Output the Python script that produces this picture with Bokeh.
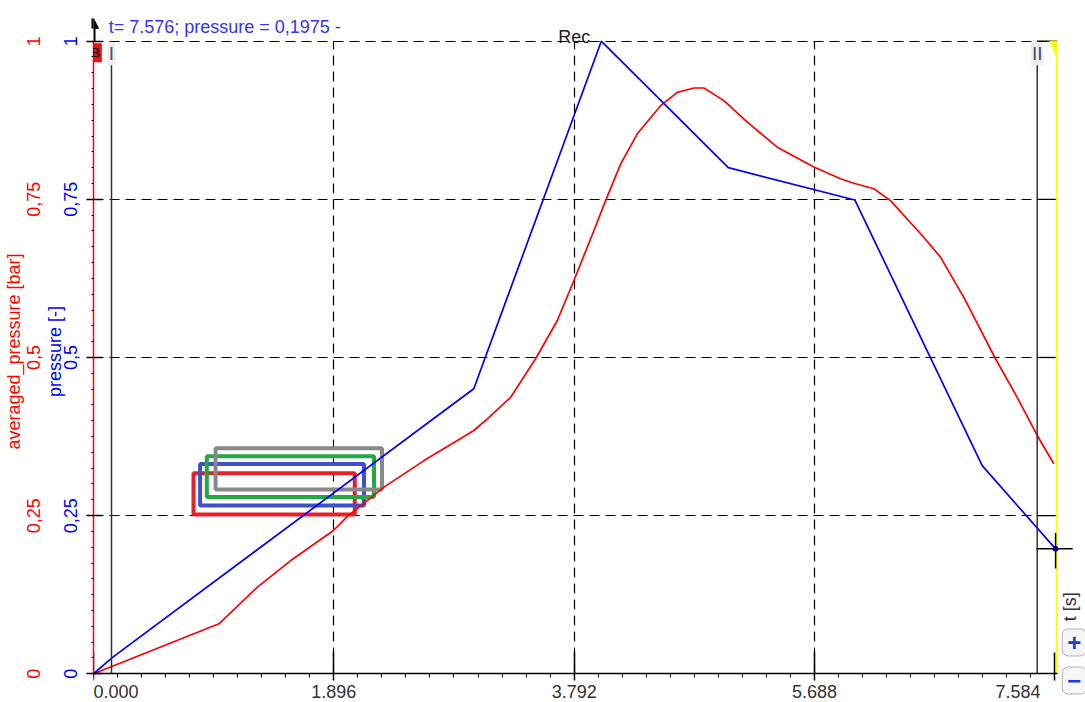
import numpy as np
from bokeh.plotting import figure
from bokeh.models import LinearAxis, FixedTicker, Range1d, Label, Arrow, NormalHead
from bokeh.embed import file_html
from bokeh.resources import INLINE

FONT = "Liberation Sans"
NB = "\u00a0"

# ---- data ----
t_pressure = [0.0, 0.15, 3.0, 4.006, 5.008, 6.006, 7.011, 7.59]
pressure = [0.0, 0.026, 0.4505, 1.0, 0.80, 0.749, 0.329, 0.1975]

t_avg = [0.0, 0.99, 1.293, 1.556, 1.893, 2.003, 2.292, 2.607, 2.897, 3.0, 3.107, 3.291,
         3.488, 3.659, 3.790, 3.948, 4.040, 4.159, 4.290, 4.474, 4.606, 4.737, 4.816,
         4.973, 5.158, 5.394, 5.683, 5.894, 5.998, 6.156, 6.288, 6.55, 6.682, 6.866,
         7.116, 7.287, 7.445, 7.576]
avg_pressure = [0.0, 0.079, 0.137, 0.179, 0.2265, 0.2487, 0.295, 0.337, 0.372, 0.3846, 0.403,
                0.437, 0.498, 0.5585, 0.6217, 0.7008, 0.748, 0.806, 0.8536, 0.898, 0.919,
                0.926, 0.926, 0.906, 0.872, 0.8325, 0.801, 0.7825, 0.7755, 0.7667, 0.748,
                0.690, 0.6586, 0.595, 0.498, 0.437, 0.3767, 0.332]

x_ticks = [0.0, 1.896, 3.792, 5.688, 7.584]
x_tick_labels = ["0.000", "1.896", "3.792", "5.688", "7.584"]
y_ticks = [0.0, 0.25, 0.5, 0.75, 1.0]
y_tick_labels = ["0", "0,25", "0,5", "0,75", "1"]

box_left = [0.789, 0.841, 0.894, 0.963]
box_right = [2.061, 2.134, 2.213, 2.276]
box_bottom = [0.2518, 0.266, 0.2793, 0.2912]
box_top = [0.317, 0.3315, 0.3437, 0.3564]
box_colors = ["#e8202a", "#4050c8", "#22a844", "#888888"]

cursor_I = 0.142
cursor_II = 7.445
cursor_t = 7.59
cursor_p = 0.1975
t_end = 7.603
title_text = "t= 7.576; pressure = 0,1975 -"

# ---- figure (frame covers the top / right / bottom margins so overlays are not clipped) ----
p = figure(width=1085, height=702, x_range=Range1d(0, 7.826), y_range=Range1d(-0.0454, 1.0643),
           output_backend="svg", toolbar_location=None, title_location=None,
           min_border_left=93, min_border_right=0, min_border_top=0, min_border_bottom=0)
p.outline_line_color = None
p.background_fill_color = "white"
p.border_fill_color = "white"

# grids
p.xgrid.ticker = FixedTicker(ticks=x_ticks[1:4])
p.ygrid.ticker = FixedTicker(ticks=y_ticks[1:])
for g in (p.xgrid, p.ygrid):
    g.grid_line_color = "black"
    g.grid_line_dash = "10 6"
    g.grid_line_width = 1.2
try:
    p.xgrid.cross_bounds = (0.0, 1.0)
    p.ygrid.cross_bounds = (0.0, t_end)
except Exception:
    p.xgrid.visible = False
    p.ygrid.visible = False
    p.segment(x0=x_ticks[1:4], y0=[0] * 3, x1=x_ticks[1:4], y1=[1] * 3,
              line_color="black", line_dash="10 6", line_width=1.2)
    p.segment(x0=[0] * 4, y0=y_ticks[1:], x1=[t_end] * 4, y1=y_ticks[1:],
              line_color="black", line_dash="10 6", line_width=1.2)

# x axis, drawn at y = 0
xa = p.xaxis[0]
xa.fixed_location = 0
xa.bounds = (0, t_end)
xstep = x_ticks[1] / 10
xa.ticker = FixedTicker(ticks=x_ticks, minor_ticks=list(np.arange(0, t_end, xstep)))
xlab = list(x_tick_labels)
xlab[0] = NB * 9 + xlab[0]
xlab[-1] = xlab[-1] + NB * 9
xa.major_label_overrides = dict(zip(x_ticks, xlab))
xa.axis_line_color = "black"
xa.axis_line_width = 1.5
xa.major_tick_line_color = "black"
xa.major_tick_line_width = 1.5
xa.major_tick_in = 21
xa.major_tick_out = 7
xa.minor_tick_line_color = "black"
xa.minor_tick_in = 0
xa.minor_tick_out = 4
xa.major_label_text_font = FONT
xa.major_label_text_font_size = "18px"
xa.major_label_text_color = "#333333"
xa.major_label_standoff = 1

# inner (blue) y axis
ya = p.yaxis[0]
ya.bounds = (0, 1)
ya.ticker = FixedTicker(ticks=y_ticks, minor_ticks=list(np.arange(0, 1.0001, 0.025)))
ya.major_label_overrides = dict(zip(y_ticks, y_tick_labels))
ya.axis_line_color = "red"
ya.axis_line_width = 1.5
ya.major_tick_line_color = "black"
ya.major_tick_line_width = 1.5
ya.major_tick_in = 9
ya.major_tick_out = 7
ya.minor_tick_line_color = "black"
ya.minor_tick_in = 0
ya.minor_tick_out = 2
ya.major_label_orientation = "vertical"
ya.major_label_text_color = "blue"
ya.major_label_text_font = FONT
ya.major_label_text_font_size = "18px"
ya.major_label_standoff = 9
ya.axis_label = "pressure [-]"
ya.axis_label_text_color = "blue"
ya.axis_label_text_font = FONT
ya.axis_label_text_font_size = "18px"
ya.axis_label_text_font_style = "normal"
ya.axis_label_standoff = -3

# outer (red) y axis
ra = LinearAxis(ticker=FixedTicker(ticks=y_ticks), bounds=(0, 1))
ra.major_label_overrides = dict(zip(y_ticks, y_tick_labels))
ra.axis_line_color = None
ra.major_tick_line_color = None
ra.minor_tick_line_color = None
ra.major_tick_out = 0
ra.major_tick_in = 0
ra.major_label_orientation = "vertical"
ra.major_label_text_color = "red"
ra.major_label_text_font = FONT
ra.major_label_text_font_size = "18px"
ra.major_label_standoff = 1
ra.axis_label = "averaged_pressure [bar]"
ra.axis_label_text_color = "red"
ra.axis_label_text_font = FONT
ra.axis_label_text_font_size = "18px"
ra.axis_label_text_font_style = "normal"
ra.axis_label_standoff = 1
p.add_layout(ra, "left")

# ---- marks ----
p.quad(left=box_left, right=box_right, bottom=box_bottom, top=box_top,
       fill_color=None, line_color=box_colors, line_width=4)

p.line(t_avg, avg_pressure, line_color="red", line_width=1.7)
p.line(t_pressure, pressure, line_color="blue", line_width=1.7)

# cursors
p.segment(x0=[cursor_I, cursor_II], y0=[0, 0], x1=[cursor_I, cursor_II], y1=[0.966, 0.966],
          line_color="#333333", line_width=1.5)
p.segment(x0=[cursor_II] * 4, y0=y_ticks[1:], x1=[t_end] * 4, y1=y_ticks[1:],
          line_color="black", line_width=1.3)
p.segment(x0=[t_end - 0.004], y0=[0], x1=[t_end - 0.004], y1=[1], line_color="#ffff00", line_width=2)
p.patch([7.545, t_end, t_end], [1.0, 1.0, 0.972], fill_color="#ffff00", line_color="#ffff00")

# crosshair
p.segment(x0=[cursor_t - 0.15, cursor_t], y0=[cursor_p, cursor_p - 0.031],
          x1=[cursor_t + 0.135, cursor_t], y1=[cursor_p, cursor_p + 0.025],
          line_color="black", line_width=1.5)
p.scatter([cursor_t], [cursor_p], size=5, color="#000080")

# ---- text annotations ----
p.add_layout(Label(x=0.12, y=1.0, y_offset=14, text=title_text, text_align="left",
                   text_baseline="alphabetic", text_font=FONT, text_font_size="18px",
                   text_color="#3333ff"))
p.add_layout(Label(x=x_ticks[2], y=1.0, y_offset=4, text="Rec", text_align="center",
                   text_baseline="alphabetic", text_font=FONT, text_font_size="18px",
                   text_color="#222222"))
p.add_layout(Label(x=t_end, x_offset=13, y=0.106, text="t [s]", angle=np.pi / 2,
                   text_align="center", text_baseline="middle", text_font=FONT,
                   text_font_size="18px", text_color="#333333"))

for cx, txt in ((cursor_I, "I"), (cursor_II, "II")):
    p.add_layout(Label(x=cx, y=1.0, y_offset=-1, text=txt, text_align="center", text_baseline="top",
                       text_font=FONT, text_font_size="19px", text_color="#4a4a70",
                       background_fill_color="#eeeeee", padding=1))

p.add_layout(Label(x=0, x_offset=2, y=1.0, y_offset=-2, text="B", text_align="center", text_baseline="top",
                   text_font=FONT, text_font_size="13px", text_color="black",
                   background_fill_color="#ee1111", padding=2))

p.add_layout(Arrow(end=NormalHead(size=10, fill_color="black", line_color="black"),
                   x_start=0, y_start=1.0, x_end=0, y_end=1.036, line_width=4, line_color="black"))

p.add_layout(Label(x=t_end, x_offset=5, y=0.0495, text="+", text_align="left", text_baseline="middle",
                   text_font=FONT, text_font_size="24px", text_font_style="bold",
                   text_color="#1a3fd0", background_fill_color="#f6f6f6",
                   border_line_color="#b0b0b0", border_radius=6, padding=5))
p.add_layout(Label(x=t_end, x_offset=5, y=-0.0106, text="\u2212", text_align="left", text_baseline="middle",
                   text_font=FONT, text_font_size="24px", text_font_style="bold",
                   text_color="#1a3fd0", background_fill_color="#f6f6f6",
                   border_line_color="#b0b0b0", border_radius=6, padding=5))

open("out.html", "w").write(file_html(p, INLINE))
